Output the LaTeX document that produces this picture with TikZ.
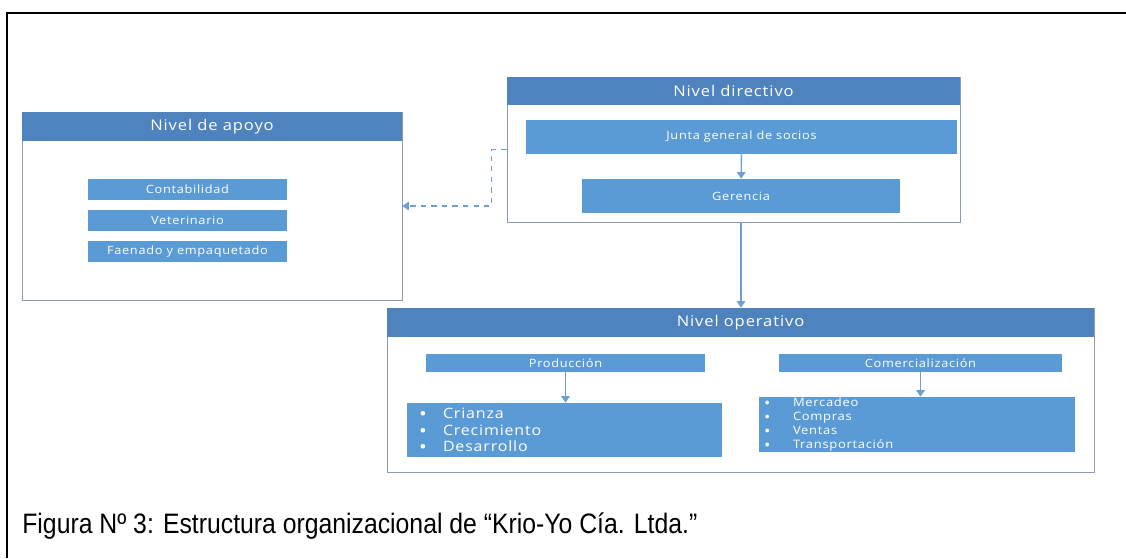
\documentclass[tikz,border=0pt]{standalone}
\usepackage{fontspec}
\usepackage{graphicx}
\setmainfont{Liberation Sans}
\newfontfamily\chartfont[LetterSpace=6,FakeStretch=1.12]{Open Sans}
\usetikzlibrary{arrows.meta,positioning,calc}
\definecolor{headblue}{HTML}{4F83BE}
\definecolor{unitblue}{HTML}{5B9BD5}
\definecolor{rimgray}{HTML}{8C9BAE}
\definecolor{linkblue}{HTML}{6E9FD3}
\newcommand\listdot{\smash{\raisebox{-0.3ex}{\scalebox{1.3}{•}}}}
\tikzset{panel/.style={draw=rimgray,fill=white,inner sep=0pt},panelhead/.style={fill=headblue,text=white,minimum height=5.8mm,inner sep=0pt,font=\chartfont\fontsize{8.4}{10}\selectfont},unit/.style={fill=unitblue,text=white,inner sep=0pt,font=\chartfont\fontsize{6.5}{7.5}\selectfont},flow/.style={-{Triangle[length=1.3mm,width=1.7mm]},draw=linkblue,thick},aside/.style={flow,dashed}}

\begin{document}
\begin{tikzpicture}
\useasboundingbox (0,0) rectangle (22.52,-11.16);
\draw[line width=1.1pt] (0.14,-11.16) |- (22.52,-0.26);
% support level
\node[panel,minimum width=76mm,minimum height=37.6mm] (apoyo) at (4.24,-4.12) {};
\node[panelhead,minimum width=76mm,anchor=north] (apoyohead) at (apoyo.north) {Nivel de apoyo};
\node[unit,minimum width=39.8mm,minimum height=4.2mm] (conta) at (3.75,-3.79) {Contabilidad};
\node[unit,minimum width=39.8mm,minimum height=4.2mm] (vete) at (3.75,-4.41) {Veterinario};
\node[unit,minimum width=39.8mm,minimum height=4.2mm] (faena) at (3.75,-5.03) {Faenado y empaquetado};
% board level
\node[panel,minimum width=90.6mm,minimum height=29mm] (directivo) at (14.67,-2.99) {};
\node[panelhead,minimum width=90.6mm,minimum height=5.6mm,anchor=north] (directivohead) at (directivo.north) {Nivel directivo};
\node[unit,minimum width=86.2mm,minimum height=6.8mm] (junta) at (14.83,-2.74) {Junta general de socios};
\node[unit,minimum width=63.6mm,minimum height=6.8mm] (gerencia) at (14.82,-3.92) {Gerencia};
% operative level
\node[panel,minimum width=141.4mm,minimum height=32.8mm] (operativo) at (14.81,-7.8) {};
\node[panelhead,minimum width=141.4mm,anchor=north] (operativohead) at (operativo.north) {Nivel operativo};
\node[unit,minimum width=55.8mm,minimum height=3.6mm] (produccion) at (11.31,-7.26) {Producción};
\node[unit,minimum width=56.6mm,minimum height=3.6mm] (comercial) at (18.41,-7.26) {Comercialización};
\node[unit,minimum width=63mm,minimum height=10.8mm,text width=58.2mm,align=left,inner xsep=2.4mm,
 font=\chartfont\fontsize{8.1}{9.4}\selectfont] (crianza) at (11.29,-8.6)
 {\makebox[4.8mm][l]{\listdot}Crianza\\\makebox[4.8mm][l]{\listdot}Crecimiento\\\makebox[4.8mm][l]{\listdot}Desarrollo};
\node[unit,minimum width=63.2mm,minimum height=11mm,text width=61.2mm,align=left,inner xsep=1mm,
 font=\chartfont\fontsize{6.6}{8}\selectfont] (mercadeo) at (18.34,-8.49)
 {\makebox[5.8mm][l]{\listdot}Mercadeo\\\makebox[5.8mm][l]{\listdot}Compras\\\makebox[5.8mm][l]{\listdot}Ventas\\\makebox[5.8mm][l]{\listdot}Transportación};
% links
\draw[flow] (junta) -- (gerencia);
\draw[flow] (gerencia |- directivo.south) -- (gerencia |- operativo.north);
\draw[flow] (produccion) -- (produccion |- crianza.north);
\draw[flow] (comercial) -- (comercial |- mercadeo.north);
\draw[aside] (directivo.west) -- ++(-0.3,0) |- (apoyo.east);
\node[anchor=base west,inner sep=0pt,font=\fontsize{16}{18}\selectfont] (caption) at (0.44,-10.66)
 {\resizebox{13.5cm}{\height}{Figura Nº 3: Estructura organizacional de “Krio-Yo Cía. Ltda.”}};
\end{tikzpicture}
\end{document}
